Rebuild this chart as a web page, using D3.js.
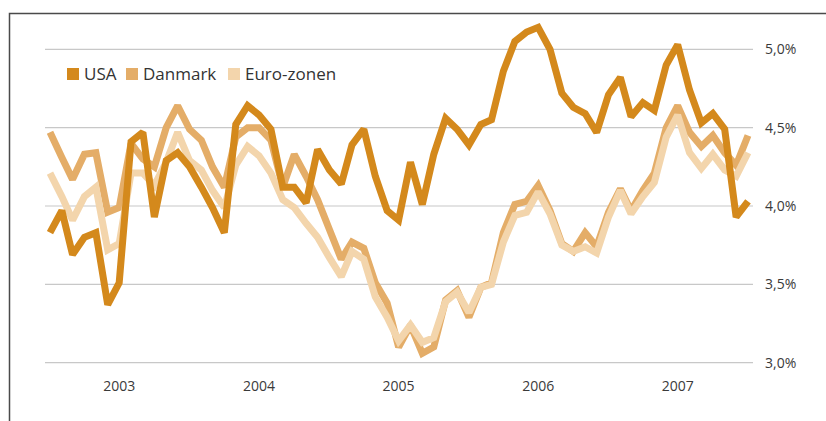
<!DOCTYPE html>
<html>

<head>
    <meta charset="utf-8">
    <style>
        body {
            margin: 0;
            background-color: #ffffff;
        }

        svg {
            display: block;
            font-family: "Open Sans", sans-serif;
        }

        .grid line {
            stroke: #c8c8c8;
            stroke-width: 1.2px;
        }

        .tick-label {
            fill: #3a3a3a;
            font-size: 14px;
        }

        .legend-label {
            fill: #333333;
            font-size: 17px;
        }
    </style>
</head>

<body>
    <div id="chart"></div>

    <script src="https://cdn.jsdelivr.net/npm/d3@7"></script>
    <script>
        // monthly rates, jan 2003 - jan 2008
        var usa = [3.83, 3.97, 3.69, 3.80, 3.83, 3.37, 3.51, 4.41, 4.47, 3.93,
            4.29, 4.34, 4.25, 4.12, 3.99, 3.83, 4.52, 4.64, 4.58, 4.49,
            4.12, 4.12, 4.02, 4.36, 4.23, 4.14, 4.39, 4.49, 4.19, 3.97,
            3.91, 4.28, 4.01, 4.33, 4.56, 4.49, 4.39, 4.52, 4.55, 4.86,
            5.05, 5.11, 5.14, 5.00, 4.72, 4.63, 4.59, 4.47, 4.71, 4.82,
            4.57, 4.66, 4.61, 4.90, 5.03, 4.74, 4.53, 4.59, 4.49, 3.93,
            4.03];
        var danmark = [4.47, 4.31, 4.17, 4.33, 4.34, 3.96, 3.99, 4.40, 4.30, 4.25,
            4.50, 4.64, 4.49, 4.42, 4.25, 4.12, 4.44, 4.50, 4.50, 4.42,
            4.12, 4.33, 4.19, 4.04, 3.85, 3.66, 3.77, 3.73, 3.51, 3.38,
            3.10, 3.24, 3.06, 3.10, 3.40, 3.46, 3.29, 3.48, 3.51, 3.83,
            4.01, 4.03, 4.13, 3.97, 3.76, 3.71, 3.83, 3.74, 3.96, 4.11,
            3.97, 4.10, 4.21, 4.50, 4.64, 4.47, 4.38, 4.45, 4.34, 4.26,
            4.45];
        var euro = [4.21, 4.06, 3.91, 4.06, 4.12, 3.72, 3.76, 4.21, 4.21, 4.13,
            4.28, 4.47, 4.29, 4.23, 4.10, 3.99, 4.26, 4.38, 4.32, 4.21,
            4.04, 3.99, 3.89, 3.80, 3.67, 3.55, 3.71, 3.66, 3.42, 3.29,
            3.14, 3.24, 3.13, 3.16, 3.39, 3.45, 3.32, 3.48, 3.50, 3.77,
            3.94, 3.96, 4.09, 3.95, 3.75, 3.71, 3.74, 3.70, 3.93, 4.10,
            3.95, 4.06, 4.15, 4.44, 4.58, 4.34, 4.24, 4.33, 4.23, 4.19,
            4.34];
        var seriesNames = ["USA", "Danmark", "Euro-zonen"];
        var seriesColors = ["#d4891c", "#e4ad68", "#f3d5ac"];
        var yTicks = [3.0, 3.5, 4.0, 4.5, 5.0];
        var yearLabels = [2003, 2004, 2005, 2006, 2007];

        var width = 826, height = 421;
        var start = new Date(2003, 0, 1);
        var months = d3.range(usa.length).map(function (i) {
            return d3.timeMonth.offset(start, i);
        });

        var svg = d3.select("#chart").append("svg")
            .attr("width", width)
            .attr("height", height);

        var x = d3.scaleTime()
            .domain([start, months[months.length - 1]])
            .range([50, 748]);

        var y = d3.scaleLinear()
            .domain([3, 5])
            .range([362.7, 49.3]);

        // frame (top and left only)
        svg.append("path")
            .attr("d", "M9.5,421 V13.5 H826")
            .attr("fill", "none")
            .attr("stroke", "#4a4a4a")
            .attr("stroke-width", 1.5);

        // gridlines + y labels
        var grid = svg.append("g").attr("class", "grid");
        grid.selectAll("line")
            .data(yTicks)
            .enter()
            .append("line")
            .attr("x1", 45)
            .attr("x2", 753)
            .attr("y1", d => y(d))
            .attr("y2", d => y(d));

        var fmt = d3.format(".1f");
        svg.selectAll(".ylab")
            .data(yTicks)
            .enter()
            .append("text")
            .attr("class", "tick-label")
            .attr("x", 765)
            .attr("y", d => y(d))
            .attr("dy", "0.35em")
            .text(d => fmt(d).replace(".", ",") + "%");

        // year labels, centred mid-year
        svg.selectAll(".xlab")
            .data(yearLabels)
            .enter()
            .append("text")
            .attr("class", "tick-label")
            .attr("x", d => x(new Date(d, 6, 1)))
            .attr("y", 386)
            .attr("dy", "0.35em")
            .attr("text-anchor", "middle")
            .text(d => d);

        var line = d3.line()
            .x((d, i) => x(months[i]))
            .y(d => y(d));

        // draw order: Danmark, Euro-zonen, USA on top
        var drawOrder = [[danmark, 1], [euro, 2], [usa, 0]];
        svg.selectAll(".series")
            .data(drawOrder)
            .enter()
            .append("path")
            .attr("class", "series")
            .attr("d", d => line(d[0]))
            .attr("fill", "none")
            .attr("stroke", d => seriesColors[d[1]])
            .attr("stroke-width", 7)
            .attr("stroke-linejoin", "miter")
            .attr("stroke-miterlimit", 2);

        // legend
        var legendX = [67, 126, 228];
        var legend = svg.selectAll(".legend")
            .data(seriesNames)
            .enter()
            .append("g")
            .attr("transform", (d, i) => "translate(" + legendX[i] + ",68)");
        legend.append("rect")
            .attr("width", 12)
            .attr("height", 12)
            .attr("fill", (d, i) => seriesColors[i]);
        legend.append("text")
            .attr("class", "legend-label")
            .attr("x", 17)
            .attr("y", 12)
            .text(d => d);
    </script>
</body>

</html>
